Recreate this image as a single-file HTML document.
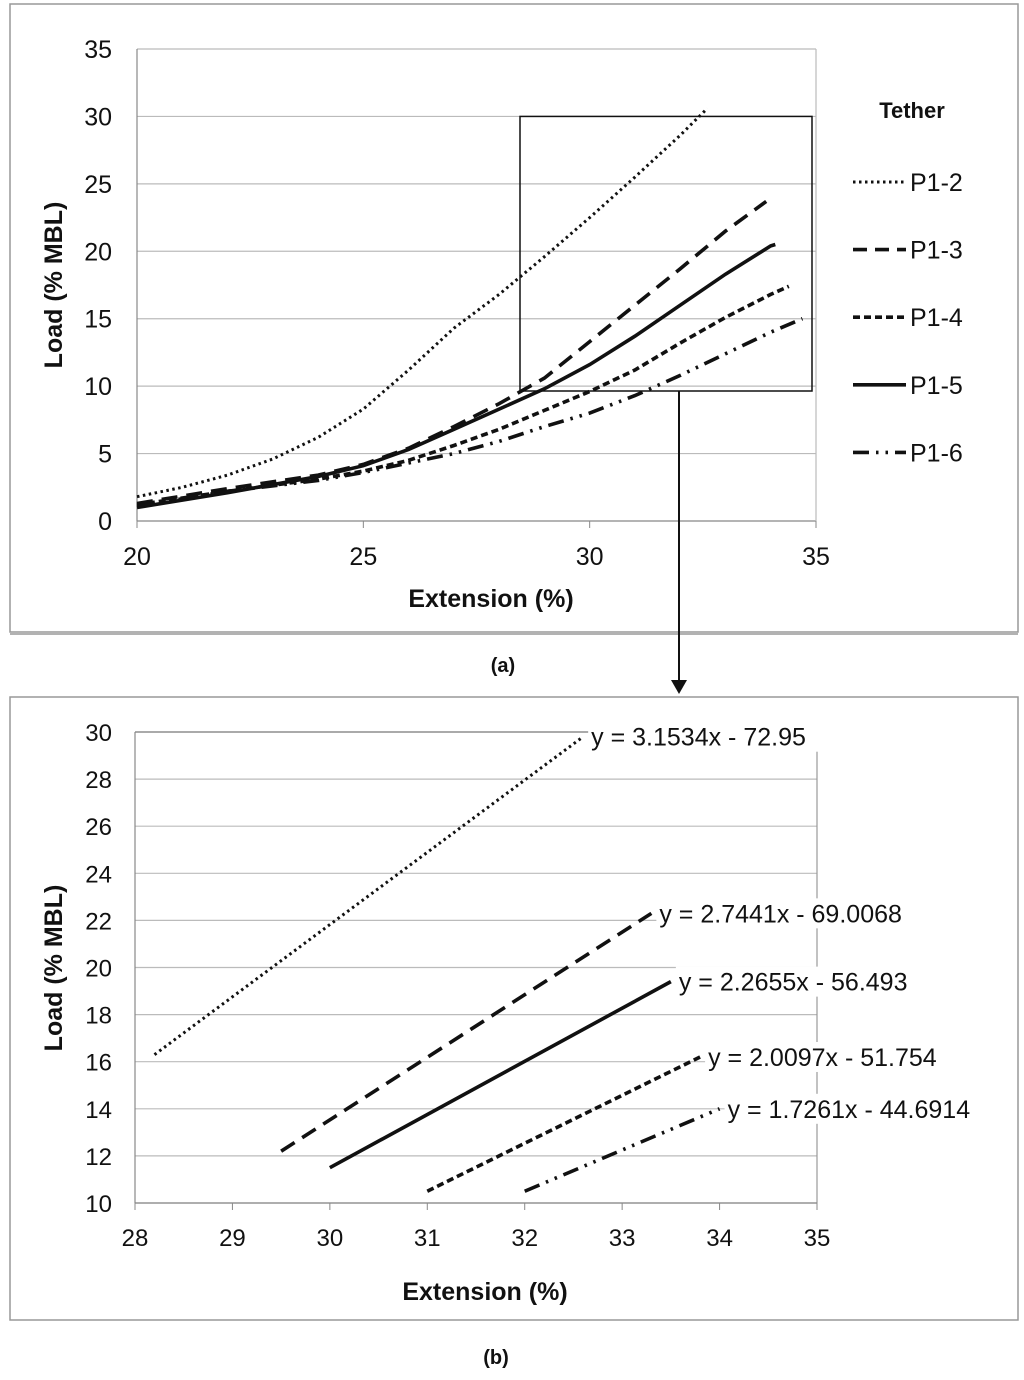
<!DOCTYPE html>
<html><head><meta charset="utf-8"><style>
body{margin:0;background:#fff;}
svg text{font-family:"Liberation Sans",Arial,sans-serif;}
</style></head><body>
<svg width="1024" height="1375" viewBox="0 0 1024 1375" xmlns="http://www.w3.org/2000/svg">
<g id="top"></g>
<g id="bot"></g>
</svg>
<script>
// ---------- data: chart (a) ----------
const topXTicks = [20, 25, 30, 35];
const topYTicks = [0, 5, 10, 15, 20, 25, 30, 35];
const seriesNames = ["P1-2", "P1-3", "P1-4", "P1-5", "P1-6"];
const p12x = [20,21,22,23,24,25,26,27,28,29,30,31,32,32.6];
const p12y = [1.8,2.5,3.4,4.6,6.2,8.3,11.2,14.3,16.8,19.6,22.5,25.5,28.6,30.6];
const p13x = [20,22,24,25,26,27,28,29,30,31,32,33,33.9];
const p13y = [1.3,2.4,3.4,4.2,5.4,7.0,8.7,10.6,13.3,16.0,18.7,21.5,23.7];
const p14x = [20,22,24,25,26,27,28,29,30,31,32,33,34,34.4];
const p14y = [1.2,2.2,3.1,3.7,4.5,5.6,6.8,8.2,9.6,11.2,13.2,15.1,16.8,17.4];
const p15x = [20,22,24,25,26,27,28,29,30,31,32,33,34,34.1];
const p15y = [1.0,2.1,3.3,4.1,5.3,6.8,8.3,9.8,11.6,13.7,16.0,18.3,20.4,20.5];
const p16x = [20,22,24,25,26,27,28,29,30,31,32,33,34,34.7];
const p16y = [1.1,2.2,3.0,3.6,4.3,5.0,5.9,7.0,8.0,9.3,10.8,12.4,14.0,15.0];
// ---------- data: chart (b) (order: P1-2, P1-3, P1-4, P1-5, P1-6) ----------
const botXTicks = [28,29,30,31,32,33,34,35];
const botYTicks = [10,12,14,16,18,20,22,24,26,28,30];
const fitX0 = [28.2, 29.5, 31.0, 30.0, 32.0];
const fitX1 = [32.6, 33.3, 33.8, 33.5, 34.0];
const fitY0 = [16.3, 12.2, 10.5, 11.5, 10.5];
const fitY1 = [29.8, 22.3, 16.2, 19.4, 14.0];
const fitLabels = ["y = 3.1534x - 72.95","y = 2.7441x - 69.0068","y = 2.0097x - 51.754","y = 2.2655x - 56.493","y = 1.7261x - 44.6914"];

const dashes = ["2.5,3.5", "16,9", "7,4", "", "16,7,2.5,7,2.5,7"];
const NS = "http://www.w3.org/2000/svg";
function mk(parent, tag, attrs, name, txt){
  const e = document.createElementNS(NS, tag);
  for (const k in attrs) e.setAttribute(k, attrs[k]);
  
  
  if (txt !== undefined) e.textContent = txt;
  parent.appendChild(e); return e;
}
// ---------- chart (a) ----------
const T = document.getElementById('top');
const tx = v => 137 + (v - 20) * (816 - 137) / 15;
const ty = v => 521 - v * (521 - 49) / 35;
mk(T,'rect',{x:10,y:4,width:1008,height:628,fill:'#fff',stroke:'#999','stroke-width':1.5},'frame-a');
mk(T,'line',{x1:10,y1:634,x2:1018,y2:634,stroke:'#999','stroke-width':1.5},'frame-a-shadow');
topYTicks.forEach(v=>{
  mk(T,'line',{x1:137,y1:ty(v),x2:816,y2:ty(v),stroke:v===0?'#888':'#bbb','stroke-width':1.2},'gridline-a');
  mk(T,'text',{x:112,y:ty(v)+9,'font-size':25,'text-anchor':'end',fill:'#111'},'y-tick-a',String(v));
});
mk(T,'line',{x1:137,y1:49,x2:137,y2:521,stroke:'#888','stroke-width':1.2},'y-axis-a');
mk(T,'line',{x1:816,y1:49,x2:816,y2:521,stroke:'#bbb','stroke-width':1.2},'right-border-a');
topXTicks.forEach(v=>{
  mk(T,'line',{x1:tx(v),y1:521,x2:tx(v),y2:528,stroke:'#888'},'x-tick-mark-a');
  mk(T,'text',{x:tx(v),y:565,'font-size':25,'text-anchor':'middle',fill:'#111'},'x-tick-a',String(v));
});
mk(T,'text',{x:491,y:607,'font-size':25,'font-weight':'bold','text-anchor':'middle',fill:'#111'},'x-axis-title-a','Extension (%)');
mk(T,'text',{x:62,y:285,'font-size':25,'font-weight':'bold','text-anchor':'middle',fill:'#111',transform:'rotate(-90 62 285)'},'y-axis-title-a','Load (% MBL)');
const topX=[p12x,p13x,p14x,p15x,p16x], topY=[p12y,p13y,p14y,p15y,p16y];
topX.forEach((xs,i)=>{
  const d = xs.map((x,j)=>(j?'L':'M')+tx(x).toFixed(1)+','+ty(topY[i][j]).toFixed(1)).join(' ');
  const p = mk(T,'path',{d:d,fill:'none',stroke:'#111','stroke-width':i===0?3:3.6},'series-'+seriesNames[i].toLowerCase());
  if (dashes[i]) p.setAttribute('stroke-dasharray',dashes[i]);
});
// zoom box + arrow
mk(T,'rect',{x:520,y:ty(30),width:812-520,height:391-ty(30),fill:'none',stroke:'#111','stroke-width':1.5},'zoom-box');
mk(T,'line',{x1:679,y1:391,x2:679,y2:682,stroke:'#111','stroke-width':2},'zoom-arrow-line');
mk(T,'path',{d:'M671,680 L687,680 L679,694 Z',fill:'#111'},'zoom-arrow-head');
// legend
mk(T,'text',{x:912,y:118,'font-size':22,'font-weight':'bold','text-anchor':'middle',fill:'#111'},'legend-title','Tether');
seriesNames.forEach((n,i)=>{
  const y = 182 + i*67.6;
  const l = mk(T,'line',{x1:853,y1:y,x2:906,y2:y,stroke:'#111','stroke-width':i===0?3:3.6},'legend-swatch');
  if (dashes[i]) l.setAttribute('stroke-dasharray',i===1?'14,8':dashes[i]);
  mk(T,'text',{x:910,y:y+9,'font-size':25,fill:'#111'},'legend-entry',n);
});
mk(T,'text',{x:503,y:672,'font-size':20,'font-weight':'bold','font-family':'Liberation Serif','text-anchor':'middle',fill:'#111'},'caption-a','(a)');

// ---------- chart (b) ----------
const B = document.getElementById('bot');
const bx = v => 135 + (v - 28) * (817 - 135) / 7;
const by = v => 1203 - (v - 10) * (1203 - 732) / 20;
mk(B,'rect',{x:10,y:697,width:1008,height:623,fill:'#fff',stroke:'#999','stroke-width':1.5},'frame-b');
botYTicks.forEach(v=>{
  mk(B,'line',{x1:135,y1:by(v),x2:817,y2:by(v),stroke:v===30?'#777':'#bbb','stroke-width':1.2},'gridline-b');
  mk(B,'text',{x:112,y:by(v)+9,'font-size':24,'text-anchor':'end',fill:'#111'},'y-tick-b',String(v));
});
mk(B,'line',{x1:135,y1:732,x2:135,y2:1203,stroke:'#888','stroke-width':1.2},'y-axis-b');
mk(B,'line',{x1:817,y1:732,x2:817,y2:1203,stroke:'#999','stroke-width':1.2},'right-border-b');
mk(B,'line',{x1:135,y1:1203,x2:817,y2:1203,stroke:'#888','stroke-width':1.2},'x-axis-b');
botXTicks.forEach(v=>{
  mk(B,'line',{x1:bx(v),y1:1203,x2:bx(v),y2:1210,stroke:'#888'},'x-tick-mark-b');
  mk(B,'text',{x:bx(v),y:1246,'font-size':24,'text-anchor':'middle',fill:'#111'},'x-tick-b',String(v));
});
mk(B,'text',{x:485,y:1300,'font-size':25,'font-weight':'bold','text-anchor':'middle',fill:'#111'},'x-axis-title-b','Extension (%)');
mk(B,'text',{x:62,y:968,'font-size':25,'font-weight':'bold','text-anchor':'middle',fill:'#111',transform:'rotate(-90 62 968)'},'y-axis-title-b','Load (% MBL)');
fitX0.forEach((x0,i)=>{
  const p = mk(B,'line',{x1:bx(x0),y1:by(fitY0[i]),x2:bx(fitX1[i]),y2:by(fitY1[i]),stroke:'#111','stroke-width':i===0?3:3.6},'fit-line-'+seriesNames[i].toLowerCase());
  if (dashes[i]) p.setAttribute('stroke-dasharray',dashes[i]);
  const lx = bx(fitX1[i]) + 8, ly = by(fitY1[i]) + 9;
  mk(B,'rect',{x:lx-3,y:ly-24,width:fitLabels[i].length*13,height:30,fill:'#fff'},'fit-label-bg');
  mk(B,'text',{x:lx,y:ly,'font-size':25,fill:'#111'},'trendline-equation',fitLabels[i]);
});
mk(B,'text',{x:496,y:1364,'font-size':20,'font-weight':'bold','font-family':'Liberation Serif','text-anchor':'middle',fill:'#111'},'caption-b','(b)');
</script>
</body></html>
